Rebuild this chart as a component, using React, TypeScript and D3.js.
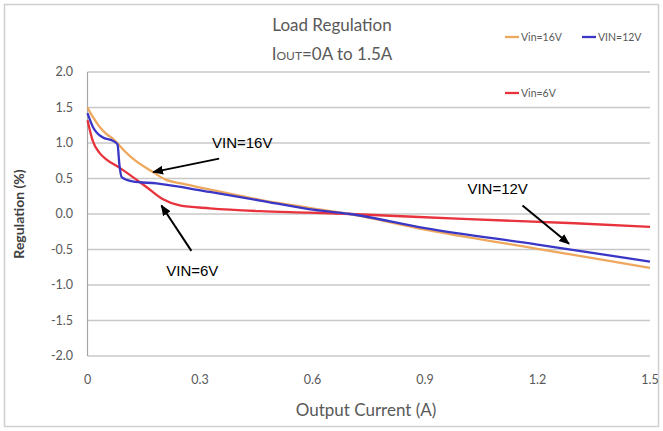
import React from "react";
import * as d3 from "d3";

const W = 663;
const H = 431;

const xTicks = [0, 0.3, 0.6, 0.9, 1.2, 1.5];
const xTickLabels = ["0", "0.3", "0.6", "0.9", "1.2", "1.5"];
const yTicks = [2.0, 1.5, 1.0, 0.5, 0.0, -0.5, -1.0, -1.5, -2.0];
const yTickLabels = ["2.0", "1.5", "1.0", "0.5", "0.0", "-0.5", "-1.0", "-1.5", "-2.0"];

// VIN=16V
const x16 = [0, 0.015, 0.032, 0.05, 0.068, 0.081, 0.1, 0.121, 0.175, 0.21, 0.25, 0.33, 0.46, 0.6, 0.7, 0.9, 1.2, 1.5];
const y16 = [1.5, 1.36, 1.23, 1.13, 1.06, 0.99, 0.88, 0.78, 0.59, 0.48, 0.43, 0.34, 0.2, 0.08, 0.0, -0.22, -0.49, -0.76];
// VIN=12V
const x12 = [0, 0.014, 0.04, 0.068, 0.08, 0.085, 0.091, 0.12, 0.184, 0.326, 0.46, 0.59, 0.7, 0.9, 1.2, 1.5];
const y12 = [1.42, 1.23, 1.08, 1.03, 0.98, 0.7, 0.52, 0.46, 0.43, 0.31, 0.19, 0.07, 0.0, -0.2, -0.43, -0.67];
// VIN=6V
const x6 = [0, 0.014, 0.032, 0.05, 0.086, 0.157, 0.2, 0.246, 0.326, 0.46, 0.59, 0.7, 1.0, 1.3, 1.5];
const y6 = [1.32, 1.03, 0.86, 0.77, 0.65, 0.38, 0.21, 0.12, 0.08, 0.04, 0.02, 0.0, -0.07, -0.13, -0.18];

const seriesNames = ["Vin=16V", "VIN=12V", "Vin=6V"];
const seriesColors = ["#eea85e", "#3a36c6", "#e8323c"];

// annotations in data units: label position (left, middle), arrow tail, arrow tip
const annLabels = ["VIN=16V", "VIN=6V", "VIN=12V"];
const annTextX = [0.332, 0.21, 1.013];
const annTextY = [1.01, -0.8, 0.36];
const annTailX = [0.351, 0.277, 1.16];
const annTailY = [0.78, -0.52, 0.12];
const annTipX = [0.175, 0.197, 1.284];
const annTipY = [0.59, 0.12, -0.42];

const FONT = "Lato, 'Open Sans', sans-serif";

export default function App() {
  const x = d3.scaleLinear().domain([0, 1.5]).range([87.5, 650]);
  const y = d3.scaleLinear().domain([-2, 2]).range([356, 72]);

  const line = d3
    .line<[number, number]>()
    .x((d) => x(d[0]))
    .y((d) => y(d[1]))
    .curve(d3.curveMonotoneX);

  const series = [
    { xs: x6, ys: y6, c: seriesColors[2] },
    { xs: x16, ys: y16, c: seriesColors[0] },
    { xs: x12, ys: y12, c: seriesColors[1] },
  ];

  return (
    <div style={{ position: "absolute", left: 0, top: 0 }}>
      <svg width={W} height={H} style={{ display: "block", background: "#fff" }}>
        <defs>
          <marker id="ah" viewBox="0 0 10 10" refX="9" refY="5" markerWidth="5.5" markerHeight="5.5" orient="auto">
            <path d="M0,1 L10,5 L0,9 z" fill="#000" />
          </marker>
        </defs>
        <rect x={4.5} y={4.5} width={654} height={422} fill="#fff" stroke="#d0d0d0" strokeWidth={1.5} />

        {yTicks.map((t, i) => (
          <line key={"g" + i} x1={x(0)} x2={x(1.5)} y1={y(t)} y2={y(t)} stroke="#c8c8c8" strokeWidth={1.3} />
        ))}
        <line x1={x(0)} x2={x(0)} y1={y(2)} y2={y(-2)} stroke="#a6a6a6" strokeWidth={1.2} />

        {yTicks.map((t, i) => (
          <text key={"yl" + i} x={73} y={y(t)} dy="0.35em" textAnchor="end" fontSize={12.5} fill="#595959" fontFamily={FONT}>
            {yTickLabels[i]}
          </text>
        ))}
        {xTicks.map((t, i) => (
          <text key={"xl" + i} x={x(t)} y={380} dy="0.35em" textAnchor="middle" fontSize={12.5} fill="#595959" fontFamily={FONT}>
            {xTickLabels[i]}
          </text>
        ))}

        <text x={366} y={410} dy="0.35em" textAnchor="middle" fontSize={17} fill="#595959" fontFamily={FONT}>
          Output Current (A)
        </text>
        <text
          transform={`translate(19,${y(0)}) rotate(-90)`}
          dy="0.35em"
          textAnchor="middle"
          fontSize={14}
          fontWeight="bold"
          fill="#404040"
          fontFamily={FONT}
        >
          Regulation (%)
        </text>

        <text x={332} y={25} dy="0.35em" textAnchor="middle" fontSize={17} fill="#595959" fontFamily={FONT}>
          Load Regulation
        </text>
        <text x={332} y={54} dy="0.35em" textAnchor="middle" fontSize={17} fill="#595959" fontFamily={FONT}>
          I<tspan fontSize={12}>OUT</tspan>=0A to 1.5A
        </text>

        {series.map((s, i) => (
          <path
            key={"s" + i}
            d={line(s.xs.map((v, j) => [v, s.ys[j]] as [number, number])) || ""}
            fill="none"
            stroke={s.c}
            strokeWidth={2.3}
          />
        ))}

        <line x1={505} x2={519} y1={37} y2={37} stroke={seriesColors[0]} strokeWidth={2.3} />
        <text x={521} y={37} dy="0.35em" fontSize={10.5} fill="#595959" fontFamily={FONT}>{seriesNames[0]}</text>
        <line x1={582} x2={596} y1={37} y2={37} stroke={seriesColors[1]} strokeWidth={2.3} />
        <text x={598} y={37} dy="0.35em" fontSize={10.5} fill="#595959" fontFamily={FONT}>{seriesNames[1]}</text>
        <line x1={505} x2={519} y1={93} y2={93} stroke={seriesColors[2]} strokeWidth={2.3} />
        <text x={521} y={93} dy="0.35em" fontSize={10.5} fill="#595959" fontFamily={FONT}>{seriesNames[2]}</text>

        {annLabels.map((l, i) => (
          <g key={"a" + i}>
            <text x={x(annTextX[i])} y={y(annTextY[i])} dy="0.35em" fontSize={15} fill="#000" fontFamily="'Liberation Sans', Arial, sans-serif">
              {l}
            </text>
            <line
              x1={x(annTailX[i])}
              y1={y(annTailY[i])}
              x2={x(annTipX[i])}
              y2={y(annTipY[i])}
              stroke="#000"
              strokeWidth={2}
              markerEnd="url(#ah)"
            />
          </g>
        ))}
      </svg>
    </div>
  );
}
